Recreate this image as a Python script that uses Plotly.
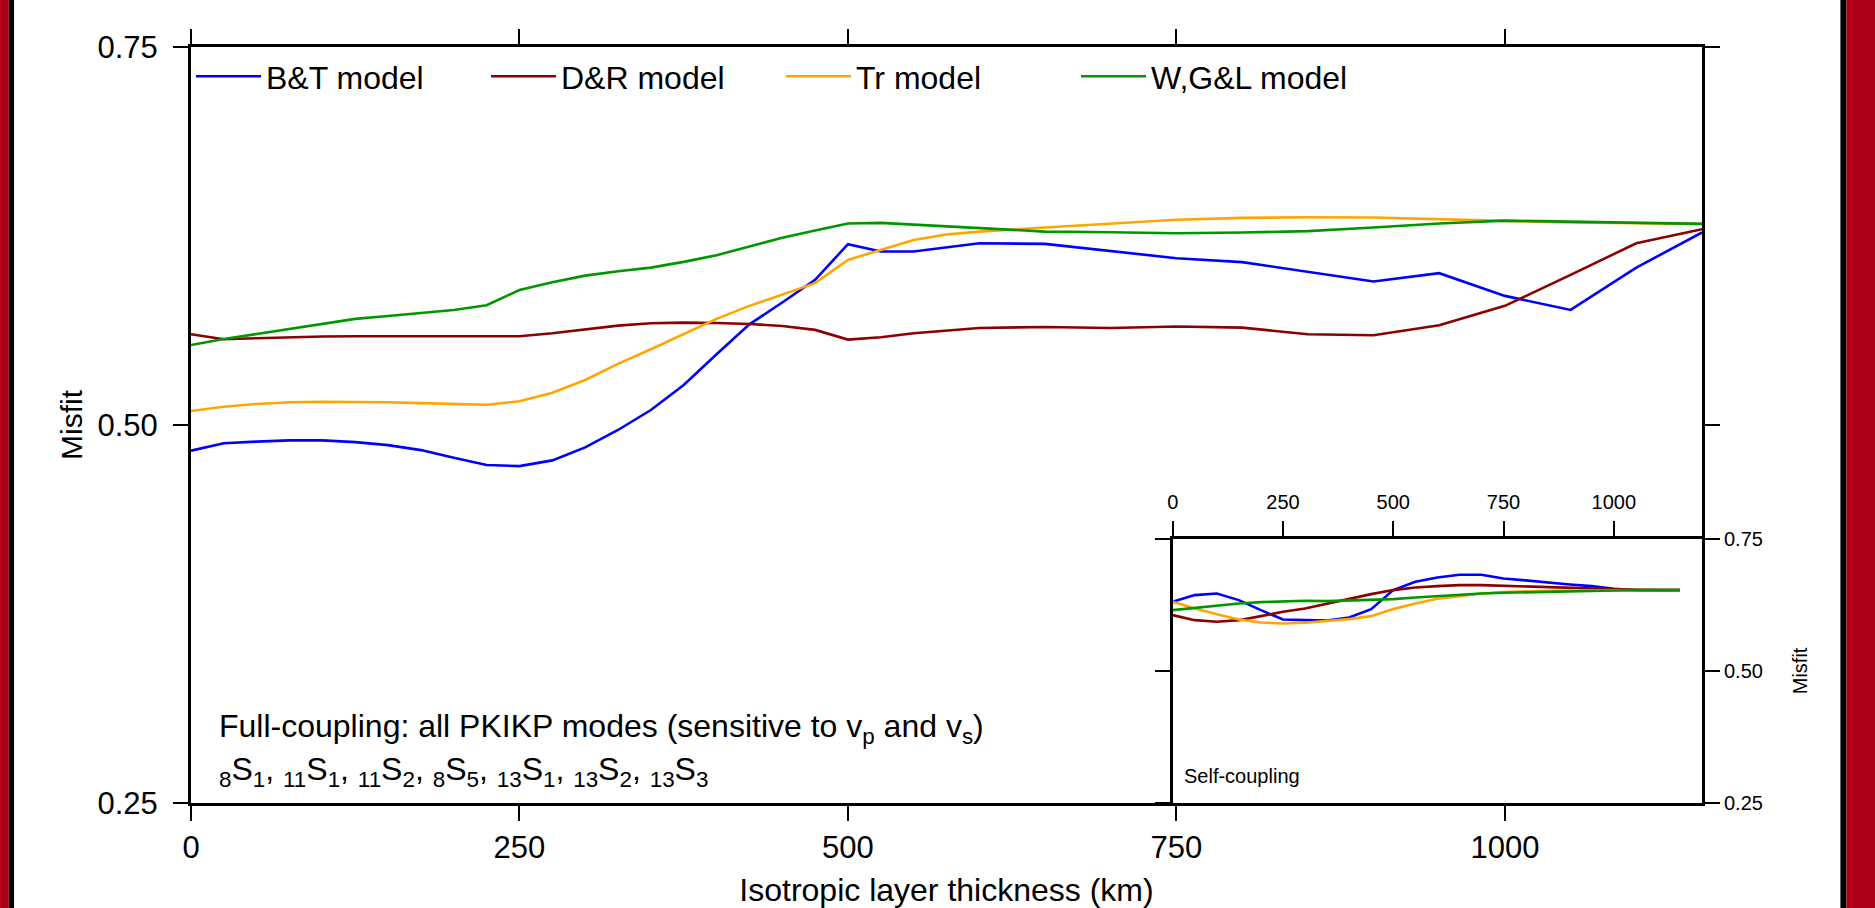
import plotly.graph_objects as go

# Layer thickness sampling (km) for the full-coupling runs
thickness_full = [0, 25, 50, 75, 100, 125, 150, 175, 200, 225, 250, 275,
                  300, 325, 350, 375, 400, 425, 450, 475, 500, 525, 550, 575,
                  600, 650, 700, 750, 800, 850, 900, 950, 1000, 1050, 1100, 1150]

bt_full = [0.4830, 0.4879, 0.4890, 0.4898, 0.4898, 0.4887, 0.4867, 0.4834, 0.4784, 0.4735, 0.4728, 0.4766,
           0.4852, 0.4967, 0.5099, 0.5265, 0.5468, 0.5666, 0.5810, 0.5960, 0.6196, 0.6147, 0.6147, 0.6176,
           0.6202, 0.6198, 0.6152, 0.6103, 0.6077, 0.6013, 0.5949, 0.6004, 0.5854, 0.5761, 0.6041, 0.6273]

dr_full = [0.5600, 0.5567, 0.5574, 0.5580, 0.5585, 0.5587, 0.5587, 0.5589, 0.5591, 0.5591, 0.5587, 0.5607,
           0.5633, 0.5657, 0.5673, 0.5677, 0.5675, 0.5668, 0.5655, 0.5629, 0.5565, 0.5580, 0.5607, 0.5624,
           0.5642, 0.5648, 0.5642, 0.5651, 0.5644, 0.5600, 0.5594, 0.5660, 0.5788, 0.5993, 0.6202, 0.6295]

tr_full = [0.5093, 0.5121, 0.5139, 0.5150, 0.5154, 0.5154, 0.5150, 0.5145, 0.5139, 0.5134, 0.5157, 0.5214,
           0.5298, 0.5404, 0.5501, 0.5602, 0.5702, 0.5788, 0.5865, 0.5938, 0.6092, 0.6158, 0.6224, 0.6260,
           0.6279, 0.6306, 0.6330, 0.6357, 0.6370, 0.6374, 0.6372, 0.6363, 0.6350, 0.6339, 0.6333, 0.6330]

wgl_full = [0.5529, 0.5569, 0.5602, 0.5635, 0.5671, 0.5702, 0.5721, 0.5739, 0.5761, 0.5792, 0.5893, 0.5944,
            0.5988, 0.6017, 0.6041, 0.6079, 0.6123, 0.6180, 0.6238, 0.6286, 0.6333, 0.6337, 0.6326, 0.6313,
            0.6304, 0.6279, 0.6275, 0.6268, 0.6273, 0.6282, 0.6306, 0.6333, 0.6352, 0.6345, 0.6337, 0.6330]

# Layer thickness sampling (km) for the self-coupling runs
thickness_self = [0, 50, 100, 150, 200, 250, 300, 350, 400, 450, 500, 550,
                  600, 650, 700, 750, 800, 850, 900, 950, 1000, 1050, 1100, 1150]

bt_self = [0.6308, 0.6434, 0.6465, 0.6339, 0.6150, 0.5973, 0.5960, 0.5954, 0.6011, 0.6169, 0.6529, 0.6686,
           0.6768, 0.6819, 0.6819, 0.6749, 0.6712, 0.6667, 0.6636, 0.6604, 0.6554, 0.6529, 0.6529, 0.6529]

dr_self = [0.6055, 0.5960, 0.5929, 0.5960, 0.6036, 0.6118, 0.6181, 0.6276, 0.6371, 0.6453, 0.6529, 0.6579,
           0.6604, 0.6623, 0.6623, 0.6610, 0.6592, 0.6579, 0.6560, 0.6548, 0.6541, 0.6535, 0.6529, 0.6529]

tr_self = [0.6308, 0.6181, 0.6074, 0.5973, 0.5916, 0.5897, 0.5910, 0.5941, 0.5979, 0.6036, 0.6169, 0.6276,
           0.6364, 0.6415, 0.6465, 0.6491, 0.6509, 0.6516, 0.6522, 0.6529, 0.6529, 0.6529, 0.6529, 0.6529]

wgl_self = [0.6150, 0.6194, 0.6238, 0.6276, 0.6301, 0.6320, 0.6326, 0.6320, 0.6333, 0.6352, 0.6358, 0.6389,
            0.6415, 0.6446, 0.6465, 0.6478, 0.6484, 0.6497, 0.6509, 0.6516, 0.6522, 0.6529, 0.6529, 0.6529]

model_names = ["B&T model", "D&R model", "Tr model", "W,G&L model"]
model_colors = ["#0000ff", "#8b0000", "#ffa500", "#009600"]

misfit_ticks = [0.25, 0.50, 0.75]
misfit_labels = ["0.25", "0.50", "0.75"]
thickness_ticks = [0, 250, 500, 750, 1000]

FONT = "Liberation Sans, Arial, Helvetica, sans-serif"

fig = go.Figure()

full_series = [bt_full, dr_full, tr_full, wgl_full]
self_series = [bt_self, dr_self, tr_self, wgl_self]

for name, color, ys in zip(model_names, model_colors, full_series):
    fig.add_trace(go.Scatter(x=thickness_full, y=ys, mode="lines", name=name,
                             line=dict(color=color, width=2.6),
                             xaxis="x", yaxis="y"))

for name, color, ys in zip(model_names, model_colors, self_series):
    fig.add_trace(go.Scatter(x=thickness_self, y=ys, mode="lines", name=name,
                             line=dict(color=color, width=2.6), showlegend=False,
                             xaxis="x2", yaxis="y2"))

axis_common = dict(showline=True, linecolor="black", linewidth=3, ticks="outside",
                   tickcolor="black", tickwidth=1.5, ticklen=15, showgrid=False,
                   zeroline=False, automargin=False)

fig.update_layout(
    width=1875, height=908,
    margin=dict(l=191, r=173, t=47, b=105, autoexpand=False),
    paper_bgcolor="white", plot_bgcolor="white",
    font=dict(family=FONT, color="black", size=32),
    xaxis=dict(axis_common, range=[0, 1150], tickvals=thickness_ticks,
               mirror="allticks", tickfont=dict(size=31),
               title=dict(text="Isotropic layer thickness (km)", font=dict(size=32), standoff=19)),
    yaxis=dict(axis_common, range=[0.25, 0.75], tickvals=misfit_ticks, ticktext=misfit_labels,
               mirror="allticks", tickfont=dict(size=31), ticklabelstandoff=9,
               title=dict(text="Misfit", font=dict(size=30), standoff=6)),
    xaxis2=dict(axis_common, domain=[0.6497, 1.0], anchor="y2", side="top",
                range=[0, 1200], tickvals=thickness_ticks, mirror=True,
                tickfont=dict(size=20), ticklabelstandoff=4),
    yaxis2=dict(axis_common, domain=[0.0, 0.3495], anchor="x2", side="right",
                range=[0.25, 0.75], tickvals=misfit_ticks, ticktext=misfit_labels,
                mirror="allticks", tickfont=dict(size=20),
                title=dict(text="Misfit", font=dict(size=20), standoff=32)),
    legend=dict(orientation="h", x=0, y=0.961, xanchor="left", yanchor="middle",
                entrywidth=215, entrywidthmode="pixels", itemwidth=65,
                bgcolor="rgba(0,0,0,0)", font=dict(size=32), tracegroupgap=0),
    showlegend=True,
)

fig.add_annotation(xref="paper", yref="paper", x=0.0169, y=0.0985,
                   xanchor="left", yanchor="middle", showarrow=False,
                   text="Full-coupling: all PKIKP modes (sensitive to v<sub>p</sub> and v<sub>s</sub>)",
                   font=dict(size=32))
fig.add_annotation(xref="paper", yref="paper", x=0.0169, y=0.0420,
                   xanchor="left", yanchor="middle", showarrow=False,
                   text=("<sub>8</sub>S<sub>1</sub>, <sub>11</sub>S<sub>1</sub>, <sub>11</sub>S<sub>2</sub>, "
                         "<sub>8</sub>S<sub>5</sub>, <sub>13</sub>S<sub>1</sub>, <sub>13</sub>S<sub>2</sub>, "
                         "<sub>13</sub>S<sub>3</sub>"),
                   font=dict(size=32))
fig.add_annotation(xref="paper", yref="paper", x=0.6556, y=0.036,
                   xanchor="left", yanchor="middle", showarrow=False,
                   text="Self-coupling", font=dict(size=20))

# Page frame: red bands with a black inner edge on both sides
for x0, x1, col in [(-0.1300, -0.1206, "#b00018"), (-0.1206, -0.1171, "black"),
                    (1.0916, 1.0956, "black"), (1.0956, 1.1200, "#b00018")]:
    fig.add_shape(type="rect", xref="paper", yref="paper", x0=x0, x1=x1,
                  y0=-0.2, y1=1.2, fillcolor=col, line=dict(width=0), layer="above")

fig.write_html("out.html")
